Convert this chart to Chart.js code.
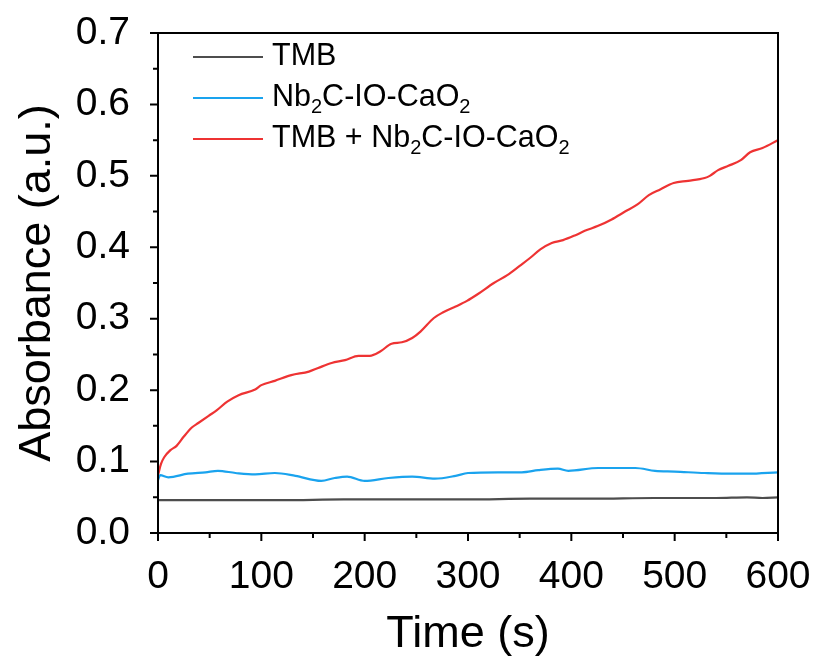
<!DOCTYPE html>
<html>
<head>
<meta charset="utf-8">
<script src="https://cdn.jsdelivr.net/npm/chart.js@4/dist/chart.umd.min.js"></script>
<style>
  html, body { margin: 0; padding: 0; background: #fff; }
  #wrap { width: 817px; height: 664px; position: relative; }
</style>
</head>
<body>
<div id="wrap"><canvas id="chart"></canvas></div>
<script>
// absorbance at 652 nm over time for the three samples
const tmbTime = [0, 60, 120, 180, 240, 300, 360, 420, 480, 540, 570, 585, 600];
const tmbAbs = [0.046, 0.046, 0.046, 0.047, 0.047, 0.047, 0.048, 0.048, 0.049, 0.049, 0.050, 0.049, 0.050];

const nbTime = [0, 2, 10, 29, 46, 58, 75, 94, 113, 133, 158, 171, 183, 200, 223, 246, 268, 288, 300, 329, 352, 368, 387, 397, 426, 462, 481, 500, 529, 555, 571, 600];
const nbAbs = [0.074, 0.081, 0.078, 0.083, 0.085, 0.087, 0.084, 0.082, 0.084, 0.080, 0.073, 0.077, 0.079, 0.073, 0.077, 0.079, 0.076, 0.080, 0.084, 0.085, 0.085, 0.088, 0.090, 0.087, 0.091, 0.091, 0.087, 0.086, 0.084, 0.083, 0.083, 0.085];

const mixTime = [0, 3, 6, 12, 18, 25, 33, 39, 49, 57, 67, 78, 94, 100, 113, 129, 146, 155, 168, 181, 194, 205, 215, 226, 236, 246, 254, 267, 276, 288, 299, 310, 325, 338, 350, 360, 370, 381, 392, 404, 413, 426, 439, 452, 464, 475, 486, 499, 513, 529, 534, 542, 552, 564, 573, 585, 600];
const mixAbs = [0.081, 0.097, 0.106, 0.116, 0.122, 0.135, 0.148, 0.154, 0.164, 0.172, 0.184, 0.193, 0.201, 0.207, 0.213, 0.221, 0.226, 0.231, 0.238, 0.242, 0.248, 0.248, 0.254, 0.265, 0.267, 0.273, 0.282, 0.301, 0.309, 0.317, 0.325, 0.335, 0.350, 0.361, 0.374, 0.385, 0.397, 0.406, 0.410, 0.417, 0.423, 0.430, 0.439, 0.450, 0.460, 0.473, 0.481, 0.490, 0.493, 0.497, 0.500, 0.508, 0.514, 0.522, 0.533, 0.539, 0.550];

const seriesNames = ['TMB', 'Nb₂C-IO-CaO₂', 'TMB + Nb₂C-IO-CaO₂'];
const seriesColors = ['#4d4d4d', '#1aa3ee', '#ee3333'];

const xTicks = [0, 100, 200, 300, 400, 500, 600];
const yTicks = [0.0, 0.1, 0.2, 0.3, 0.4, 0.5, 0.6, 0.7];

const FONT = 'Arial, "Liberation Sans", sans-serif';

function toPoints(xs, ys) {
  return xs.map(function (x, i) { return { x: x, y: ys[i] }; });
}

// frame round the plot area plus outward major / minor tick marks
const framePlugin = {
  id: 'frame',
  afterDraw: function (chart) {
    const ctx = chart.ctx;
    const a = chart.chartArea;
    const xs = chart.scales.x;
    const ys = chart.scales.y;
    ctx.save();
    ctx.strokeStyle = '#000';
    ctx.lineWidth = 2;
    ctx.strokeRect(a.left, a.top, a.right - a.left, a.bottom - a.top);
    ctx.beginPath();
    for (let v = 0; v <= 600; v += 50) {
      const px = xs.getPixelForValue(v);
      const len = v % 100 === 0 ? 8 : 5;
      ctx.moveTo(px, a.bottom);
      ctx.lineTo(px, a.bottom + len);
    }
    for (let i = 0; i <= 14; i++) {
      const py = ys.getPixelForValue(i * 0.05);
      const len = i % 2 === 0 ? 8 : 5;
      ctx.moveTo(a.left, py);
      ctx.lineTo(a.left - len, py);
    }
    ctx.stroke();
    ctx.restore();
  }
};

// legend with real subscripts for the chemical formulas
function drawRich(ctx, text, x, y, size) {
  let cx = x;
  for (const ch of text) {
    if (ch === '₂') {
      ctx.font = Math.round(size * 0.66) + 'px ' + FONT;
      ctx.fillText('2', cx, y + size * 0.3);
      cx += ctx.measureText('2').width;
    } else {
      ctx.font = size + 'px ' + FONT;
      ctx.fillText(ch, cx, y);
      cx += ctx.measureText(ch).width;
    }
  }
}

const legendPlugin = {
  id: 'richLegend',
  afterDraw: function (chart) {
    const ctx = chart.ctx;
    const a = chart.chartArea;
    ctx.save();
    ctx.textBaseline = 'middle';
    ctx.fillStyle = '#000';
    chart.data.datasets.forEach(function (ds, i) {
      const y = a.top + 24 + i * 41;
      ctx.strokeStyle = ds.borderColor;
      ctx.lineWidth = 2;
      ctx.beginPath();
      ctx.moveTo(a.left + 35, y);
      ctx.lineTo(a.left + 105, y);
      ctx.stroke();
      drawRich(ctx, ds.label, a.left + 114, y, 30.5);
    });
    ctx.restore();
  }
};

const datasets = [
  { data: toPoints(tmbTime, tmbAbs) },
  { data: toPoints(nbTime, nbAbs) },
  { data: toPoints(mixTime, mixAbs) }
].map(function (d, i) {
  return Object.assign(d, {
    label: seriesNames[i],
    borderColor: seriesColors[i],
    borderWidth: 2.2,
    pointRadius: 0,
    fill: false,
    cubicInterpolationMode: 'monotone'
  });
});

new Chart(document.getElementById('chart'), {
  type: 'line',
  data: { datasets: datasets },
  options: {
    responsive: true,
    maintainAspectRatio: false,
    animation: false,
    layout: { padding: { top: 33, right: 39, left: 0, bottom: 0 } },
    plugins: {
      legend: { display: false },
      tooltip: { enabled: false }
    },
    scales: {
      x: {
        type: 'linear',
        min: 0,
        max: 600,
        afterFit: function (scale) {
          scale.height = 131;
          scale.paddingLeft = 0;
          scale.paddingRight = 0;
        },
        afterBuildTicks: function (scale) {
          scale.ticks = xTicks.map(function (v) { return { value: v }; });
        },
        grid: { display: false },
        border: { display: false },
        ticks: {
          color: '#000',
          padding: 13,
          maxRotation: 0,
          font: { family: FONT, size: 39 }
        },
        title: {
          display: true,
          text: 'Time (s)',
          color: '#000',
          padding: { top: 0, bottom: 2 },
          font: { family: FONT, size: 45 }
        }
      },
      y: {
        min: 0,
        max: 0.7,
        afterFit: function (scale) {
          scale.width = 158;
          scale.paddingTop = 0;
          scale.paddingBottom = 0;
        },
        afterBuildTicks: function (scale) {
          scale.ticks = yTicks.map(function (v) { return { value: v }; });
        },
        grid: { display: false },
        border: { display: false },
        ticks: {
          color: '#000',
          padding: 20,
          font: { family: FONT, size: 39 },
          callback: function (v) { return Number(v).toFixed(1); }
        },
        title: {
          display: true,
          text: 'Absorbance (a.u.)',
          color: '#000',
          padding: { top: 11, bottom: 0 },
          font: { family: FONT, size: 45 }
        }
      }
    }
  },
  plugins: [framePlugin, legendPlugin]
});
</script>
</body>
</html>
